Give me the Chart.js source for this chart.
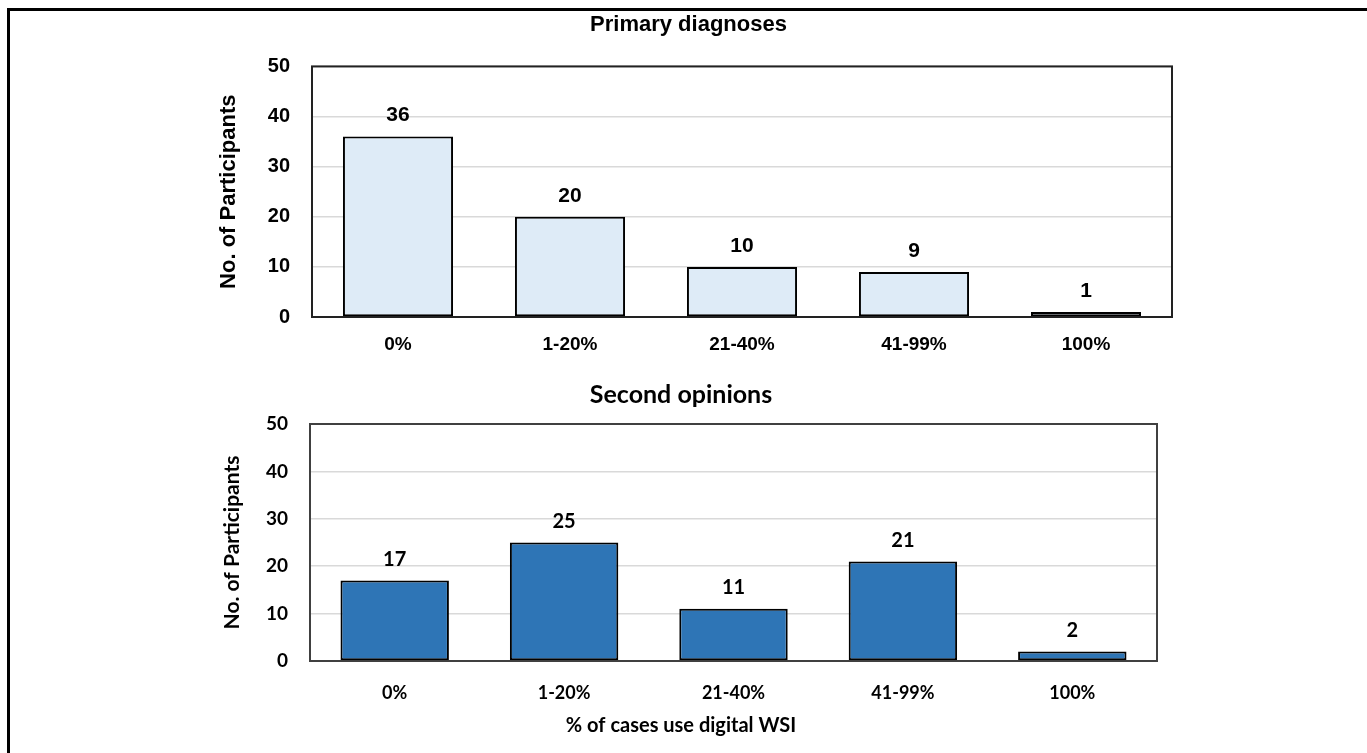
<!DOCTYPE html>
<html>
<head>
<meta charset="utf-8">
<script src="https://cdn.jsdelivr.net/npm/chart.js@4.4.1/dist/chart.umd.min.js"></script>
<style>
  body { margin: 0; background: #fff; width: 1367px; height: 753px; overflow: hidden; position: relative; }
  #frame { position: absolute; left: 7px; top: 8px; width: 1400px; height: 800px; border-top: 3px solid #000; border-left: 3px solid #000; }
  #topChart { position: absolute; left: 0; top: 0; }
  #botChart { position: absolute; left: 0; top: 370px; }
</style>
</head>
<body>
<div id="frame"></div>
<canvas id="topChart" width="1367" height="370" style="width:1367px;height:370px"></canvas>
<canvas id="botChart" width="1367" height="383" style="width:1367px;height:383px"></canvas>
<script>
// data
const categories = ['0%', '1-20%', '21-40%', '41-99%', '100%'];
const primaryValues = [36, 20, 10, 9, 1];
const secondValues = [17, 25, 11, 21, 2];
const yTicks = [0, 10, 20, 30, 40, 50];

// value above each bar
const valueLabels = {
    id: 'valueLabels',
    afterDatasetsDraw(chart, args, opts) {
        const ctx = chart.ctx;
        const meta = chart.getDatasetMeta(0);
        ctx.save();
        ctx.font = opts.font;
        ctx.fillStyle = '#000';
        ctx.textAlign = 'center';
        ctx.textBaseline = 'middle';
        meta.data.forEach((bar, i) => {
            ctx.fillText(chart.data.datasets[0].data[i], bar.x, bar.y - opts.offset);
        });
        ctx.restore();
    }
};

// box round the plot area
const plotFrame = {
    id: 'plotFrame',
    afterDraw(chart, args, opts) {
        const a = chart.chartArea;
        const ctx = chart.ctx;
        ctx.save();
        ctx.strokeStyle = opts.color;
        ctx.lineWidth = opts.width;
        ctx.strokeRect(a.left, a.top, a.right - a.left, a.bottom - a.top);
        ctx.restore();
    }
};

function makeChart(id, values, s) {
    const font = (size) => ({ family: s.family, size: size, weight: 'bold' });
    return new Chart(document.getElementById(id), {
        type: 'bar',
        data: {
            labels: categories,
            datasets: [{
                data: values,
                backgroundColor: s.fill,
                borderColor: '#000',
                borderWidth: 2,
                borderSkipped: false,
                barPercentage: 0.64,
                categoryPercentage: 1
            }]
        },
        plugins: [valueLabels, plotFrame],
        options: {
            responsive: false,
            animation: false,
            layout: { padding: { left: 205, right: s.right, top: 0, bottom: 0 } },
            plugins: {
                legend: { display: false },
                tooltip: { enabled: false },
                title: {
                    display: true,
                    text: s.title,
                    color: '#000',
                    font: font(s.titleSize),
                    padding: { top: s.titleTop, bottom: s.titleBottom }
                },
                // x axis title sits under the whole figure, so use the subtitle box
                subtitle: {
                    display: !!s.xTitle,
                    text: s.xTitle || '',
                    position: 'bottom',
                    color: '#000',
                    font: font(s.xTitleSize || 12),
                    padding: { top: 13, bottom: 15 }
                },
                valueLabels: { font: 'bold ' + s.labelSize + 'px ' + s.family, offset: s.labelOffset },
                plotFrame: { color: s.frame, width: 2 }
            },
            scales: {
                x: {
                    grid: { display: false, drawTicks: false },
                    border: { display: false },
                    ticks: { color: '#000', font: font(s.xTickSize), padding: s.xTickPad },
                    afterFit: (scale) => { scale.height = s.xHeight; }
                },
                y: {
                    min: 0,
                    max: 50,
                    afterBuildTicks: (scale) => { scale.ticks = yTicks.map(v => ({ value: v })); },
                    grid: { color: '#d9d9d9', lineWidth: 1.5, drawTicks: false },
                    border: { display: false },
                    ticks: { color: '#000', font: font(s.yTickSize), padding: 22 },
                    title: {
                        display: true,
                        text: 'No. of Participants',
                        color: '#000',
                        font: font(s.yTitleSize),
                        padding: { top: s.yTitlePad, bottom: 0 }
                    },
                    afterFit: (scale) => { scale.width = s.yWidth; }
                }
            }
        }
    });
}

makeChart('topChart', primaryValues, {
    family: '"Liberation Sans", Arial, sans-serif',
    fill: '#deebf7',
    frame: '#222',
    right: 195,
    title: 'Primary diagnoses',
    titleSize: 22, titleTop: 12, titleBottom: 28,
    labelSize: 21, labelOffset: 21,
    xTickSize: 19, xTickPad: 16, xHeight: 53,
    yTickSize: 20, yTitleSize: 22, yTitlePad: 11, yWidth: 107
});

makeChart('botChart', secondValues, {
    family: 'Lato, "Open Sans", sans-serif',
    fill: '#2e75b6',
    frame: '#404040',
    right: 210,
    title: 'Second opinions',
    titleSize: 25, titleTop: 10, titleBottom: 14,
    labelSize: 20, labelOffset: 21,
    xTickSize: 18, xTickPad: 21, xHeight: 40,
    xTitle: '% of cases use digital WSI', xTitleSize: 20,
    yTickSize: 19, yTitleSize: 21, yTitlePad: 15, yWidth: 105
});
</script>
</body>
</html>
